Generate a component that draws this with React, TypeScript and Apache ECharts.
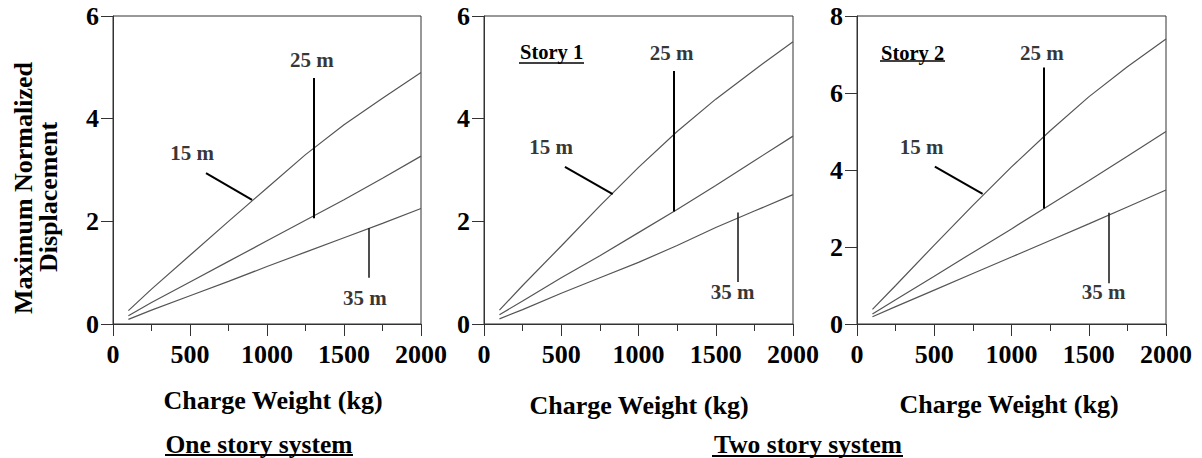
import React, { useEffect, useRef } from "react";
import * as echarts from "echarts";

// Charge weight (kg) sample points
const weights = [100, 250, 500, 750, 1000, 1250, 1500, 1750, 2000];

// One story system
const one15 = [0.26, 0.68, 1.34, 2.0, 2.65, 3.3, 3.88, 4.4, 4.9];
const one25 = [0.16, 0.42, 0.82, 1.22, 1.62, 2.02, 2.42, 2.84, 3.27];
const one35 = [0.09, 0.27, 0.55, 0.83, 1.12, 1.4, 1.68, 1.96, 2.25];

// Two story system - Story 1
const s1_15 = [0.27, 0.75, 1.52, 2.3, 3.05, 3.75, 4.38, 4.95, 5.5];
const s1_25 = [0.18, 0.45, 0.9, 1.33, 1.78, 2.23, 2.7, 3.18, 3.66];
const s1_35 = [0.1, 0.28, 0.6, 0.9, 1.2, 1.53, 1.88, 2.2, 2.52];

// Two story system - Story 2
const s2_15 = [0.38, 1.0, 2.05, 3.08, 4.08, 5.02, 5.9, 6.68, 7.4];
const s2_25 = [0.26, 0.63, 1.24, 1.86, 2.47, 3.1, 3.72, 4.36, 5.0];
const s2_35 = [0.19, 0.45, 0.88, 1.31, 1.74, 2.17, 2.6, 3.04, 3.48];

const yMaxes = [6, 6, 8];
const distanceLabels = ["15 m", "25 m", "35 m"];

// Annotation label anchors in data coordinates [x, y] per panel (15 m, 25 m, 35 m)
const labelPos1 = [[513, 3.33], [1292, 5.14], [1636, 0.51]];
const labelPos2 = [[434, 3.45], [1215, 5.27], [1610, 0.63]];
const labelPos3 = [[418, 4.6], [1196, 7.03], [1596, 0.84]];

// Leader lines in data coordinates [x1, y1, x2, y2]
const leaders1 = [[604, 2.94, 903, 2.42], [1305, 4.79, 1305, 2.06], [1662, 1.87, 1662, 0.9]];
const leaders2 = [[524, 3.06, 833, 2.53], [1225, 4.93, 1225, 2.19], [1640, 2.17, 1640, 0.82]];
const leaders3 = [[504, 4.09, 813, 3.38], [1211, 6.66, 1211, 3.0], [1628, 2.89, 1628, 1.06]];

const FONT = "'Times New Roman', 'Liberation Serif', Times, serif";

export default function App() {
  const ref = useRef<HTMLDivElement>(null);

  useEffect(() => {
    if (!ref.current) return;
    const chart = echarts.init(ref.current, undefined, { renderer: "svg" });

    const panels = [
      { curves: [one15, one25, one35], labels: labelPos1, leaders: leaders1 },
      { curves: [s1_15, s1_25, s1_35], labels: labelPos2, leaders: leaders2 },
      { curves: [s2_15, s2_25, s2_35], labels: labelPos3, leaders: leaders3 },
    ];

    const gridLefts = [113, 484, 857];
    const gridWidths = [308, 309, 309];

    const grid = gridLefts.map((l, i) => ({
      left: l,
      top: 16,
      width: gridWidths[i],
      height: 308,
      show: true,
      borderColor: "#333",
      borderWidth: 1,
      backgroundColor: "transparent",
    }));

    const axisTextStyle = {
      fontSize: 26,
      fontWeight: "bold" as const,
      fontFamily: FONT,
      color: "#000",
    };

    const xAxis = gridLefts.map((_, i) => ({
      type: "value" as const,
      gridIndex: i,
      min: 0,
      max: 2000,
      interval: 500,
      axisLine: { show: true, lineStyle: { color: "#333", width: 1 } },
      axisTick: { show: true, length: 12, lineStyle: { color: "#333" } },
      minorTick: { show: true, splitNumber: 2, length: 7, lineStyle: { color: "#333" } },
      splitLine: { show: false },
      minorSplitLine: { show: false },
      axisLabel: { ...axisTextStyle, margin: 17, formatter: (v: number) => String(v) },
    }));

    const yAxis = gridLefts.map((_, i) => ({
      type: "value" as const,
      gridIndex: i,
      min: 0,
      max: yMaxes[i],
      interval: 2,
      axisLine: { show: true, lineStyle: { color: "#333", width: 1 } },
      axisTick: { show: true, length: 12, lineStyle: { color: "#333" } },
      splitLine: { show: false },
      axisLabel: { ...axisTextStyle, margin: 14, formatter: (v: number) => String(v) },
    }));

    const series: any[] = [];
    panels.forEach((p, i) => {
      p.curves.forEach((vals, k) => {
        series.push({
          type: "line",
          name: `${distanceLabels[k]}-${i}`,
          xAxisIndex: i,
          yAxisIndex: i,
          data: weights.map((w, j) => [w, vals[j]]),
          showSymbol: false,
          smooth: false,
          lineStyle: { color: "#555", width: 1.2 },
          silent: true,
        });
      });
      series.push({
        type: "scatter",
        xAxisIndex: i,
        yAxisIndex: i,
        symbolSize: 1,
        itemStyle: { color: "transparent" },
        silent: true,
        data: p.labels.map((pos, k) => [pos[0], pos[1], distanceLabels[k]]),
        label: {
          show: true,
          position: "inside",
          formatter: (d: any) => d.value[2],
          fontSize: 21,
          fontWeight: "bold",
          fontFamily: FONT,
          color: "#000",
        },
        markLine: {
          silent: true,
          symbol: ["none", "none"],
          label: { show: false },
          data: p.leaders.map((l, k) => [
            {
              coord: [l[0], l[1]],
              lineStyle: { color: k === 2 ? "#222" : "#000", width: k === 2 ? 1.6 : 2, type: "solid" },
            },
            { coord: [l[2], l[3]] },
          ]),
        },
      });
    });

    const titleStyle = (fs: number) => ({
      fontSize: fs,
      fontWeight: "bold",
      fontFamily: FONT,
      fill: "#000",
      align: "center",
      verticalAlign: "middle",
    });

    const graphic: any[] = [
      {
        type: "text",
        x: 23,
        y: 188,
        rotation: Math.PI / 2,
        style: { text: "Maximum Normalized", ...titleStyle(26) },
      },
      {
        type: "text",
        x: 48,
        y: 197,
        rotation: Math.PI / 2,
        style: { text: "Displacement", ...titleStyle(26) },
      },
      { type: "text", x: 273, y: 400, style: { text: "Charge Weight (kg)", ...titleStyle(26) } },
      { type: "text", x: 639, y: 405, style: { text: "Charge Weight (kg)", ...titleStyle(26) } },
      { type: "text", x: 1009, y: 404, style: { text: "Charge Weight (kg)", ...titleStyle(26) } },
      { type: "text", x: 259, y: 444, style: { text: "One story system", ...titleStyle(25.5) } },
      { type: "line", shape: { x1: 165, y1: 455, x2: 353, y2: 455 }, style: { stroke: "#000", lineWidth: 2 } },
      { type: "text", x: 808, y: 444, style: { text: "Two story system", ...titleStyle(25.5) } },
      { type: "line", shape: { x1: 712, y1: 456, x2: 903, y2: 456 }, style: { stroke: "#000", lineWidth: 2 } },
      {
        type: "text",
        x: 520,
        y: 52,
        style: { text: "Story 1", ...titleStyle(20.5), align: "left" },
      },
      { type: "line", shape: { x1: 519, y1: 63, x2: 584, y2: 63 }, style: { stroke: "#000", lineWidth: 1.5 } },
      {
        type: "text",
        x: 881,
        y: 53,
        style: { text: "Story 2", ...titleStyle(20.5), align: "left" },
      },
      { type: "line", shape: { x1: 880, y1: 61, x2: 945, y2: 61 }, style: { stroke: "#000", lineWidth: 1.5 } },
    ];

    chart.setOption({
      animation: false,
      backgroundColor: "#fff",
      grid,
      xAxis,
      yAxis,
      series,
      graphic,
    });

    return () => {
      chart.dispose();
    };
  }, []);

  return (
    <div
      ref={ref}
      style={{ position: "absolute", left: 0, top: 0, width: 1202, height: 458 }}
    />
  );
}
